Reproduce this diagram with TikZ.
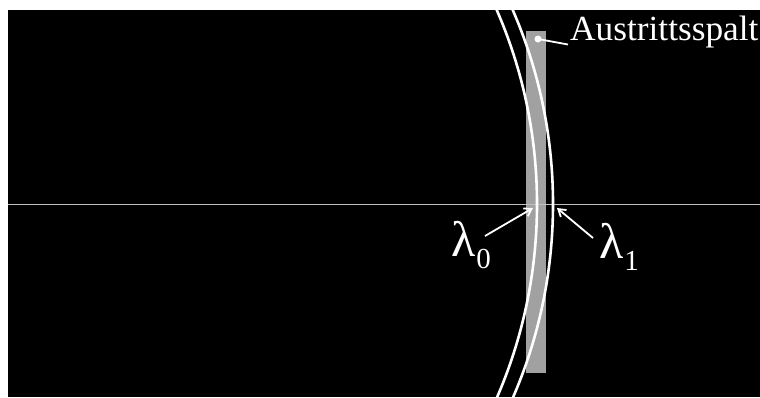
\documentclass[tikz,border=0pt]{standalone}
\usepackage{fontspec}
\setmainfont{Liberation Serif}
\usetikzlibrary{positioning,arrows.meta}

\tikzset{
	arcline/.style={white,line width=2.6pt},
	pointer/.style={white,line width=1.8pt,-{Straight Barb[length=7pt,width=9pt]}},
	lamlabel/.style={white,inner sep=0pt,anchor=base west,font=\fontsize{50}{50}\selectfont}
}

\newcommand{\lamsub}[1]{λ\kern1pt\raisebox{-12pt}{\fontsize{29}{29}\selectfont #1}}

\begin{document}
\begin{tikzpicture}[x=1pt,y=-1pt]
		
		\fill[white] (0,0) rectangle (760,397);
		\fill[black] (8,10) rectangle (760,397);
		\useasboundingbox (0,0) rectangle (760,397);
		
		\begin{scope}
			\clip (8,10) rectangle (760,397);
			
			% exit slit
			\fill[black!37] (526,31) rectangle (546,373);
			
			% axis
			\draw[black!25,line width=1pt] (8,204) -- (760,204);
			
			% focal curves
			\foreach \cx in {51,67}
			{
				\draw[arcline] (\cx,204) circle[radius=486];
			}
		\end{scope}
		
		\node[white,inner sep=0pt,anchor=base west,font=\fontsize{35.3}{35.3}\selectfont]
		(slitlabel) at (570,40) {Austrittsspalt};
		
		\coordinate (slitdot) at (538,39);
		\fill[white] (slitdot) circle[radius=3.5];
		\draw[white,line width=1.8pt] (slitdot) -- ([xshift=-2pt,yshift=-13pt]slitlabel.west);
		
		\node[lamlabel] (lam0) at (451,256) {\lamsub{0}};
		\node[lamlabel] (lam1) at (599,258) {\lamsub{1}};
		
		\coordinate (from0) at (485,236);
		\coordinate (tip0) at (533,208);
		\coordinate (from1) at (593,238);
		\coordinate (tip1) at (557,208);
		
		\draw[pointer] (from0) -- (tip0);
		\draw[pointer] (from1) -- (tip1);
		
	\end{tikzpicture}
\end{document}
